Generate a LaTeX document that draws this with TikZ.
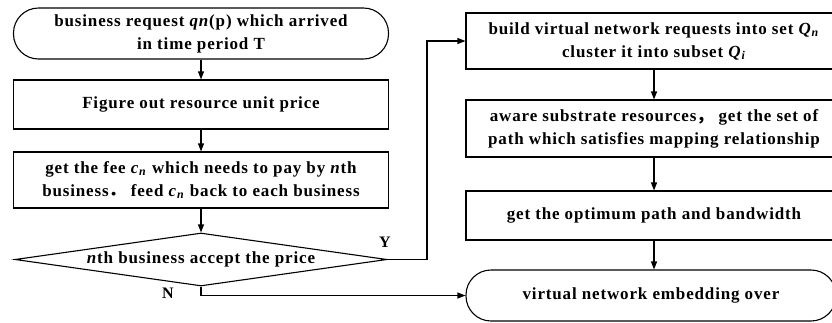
\documentclass[tikz,border=0pt]{standalone}
\usepackage{fontspec}
\setmainfont{Liberation Serif}[LetterSpace=5]
\newfontfamily\cjk{Noto Sans CJK SC}
\usetikzlibrary{shapes.geometric,arrows.meta}
\begin{document}
\begin{tikzpicture}[x=1pt,y=-1pt,
  font=\bfseries\fontsize{17}{23}\selectfont,
  box/.style={draw, line width=1.1pt, inner sep=0pt, align=center},
  term/.style={box, rounded corners=25pt},
  dia/.style={box, diamond, shape aspect=7},
  arr/.style={line width=1.1pt, -{Triangle[length=8pt,width=6pt]}},
  lab/.style={font=\bfseries\fontsize{16}{18}\selectfont}]
\useasboundingbox (0,0) rectangle (832,322);
\clip (0,0) rectangle (832,322);
\node[term, minimum width=375pt, minimum height=51pt] (t1) at (201,33.5)
  {business request \textit{qn}(p) which arrived\\in time period T};
\node[box, minimum width=375pt, minimum height=49pt] (b2) at (201,104.5)
  {Figure out resource unit price};
\node[box, minimum width=375pt, minimum height=56pt] (b3) at (201,180)
  {get the fee \textit{c}\textsubscript{\textit{n}} which needs to pay by \textit{n}th\\business{\cjk．}\ feed \textit{c}\textsubscript{\textit{n}} back to each business};
\node[dia, minimum width=372pt, minimum height=53pt] (d) at (201,259.5)
  {\textit{n}th business accept the price};
\node[box, minimum width=376pt, minimum height=56pt] (r1) at (654,41)
  {build virtual network requests into set \textit{Q}\textsubscript{\textit{n}}\\cluster it into subset \textit{Q}\textsubscript{\textit{i}}};
\node[box, minimum width=376pt, minimum height=57pt] (r2) at (654,128.5)
  {aware substrate resources{\cjk，}\ get the set of\\path which satisfies mapping relationship};
\node[box, minimum width=376pt, minimum height=49pt] (r3) at (654,215.5)
  {get the optimum path and bandwidth};
\node[term, minimum width=370pt, minimum height=51pt] (r4) at (651,295.5)
  {virtual network embedding over};
\node[lab] (ly) at (385,242) {Y};
\node[lab] (ln) at (168,293) {N};
\draw[arr] (t1.south) -- (b2.north);
\draw[arr] (b2.south) -- (b3.north);
\draw[arr] (b3.south) -- (d.north);
\draw[arr] (r1.south) -- (r2.north);
\draw[arr] (r2.south) -- (r3.north);
\draw[arr] (r3.south) -- (r3.south |- r4.north);
\coordinate (yc) at (427,259.5);
\draw[arr] (d.east) -- (yc) |- (r1.west);
\draw[arr] (d.south) |- (r4.west);
\end{tikzpicture}
\end{document}
